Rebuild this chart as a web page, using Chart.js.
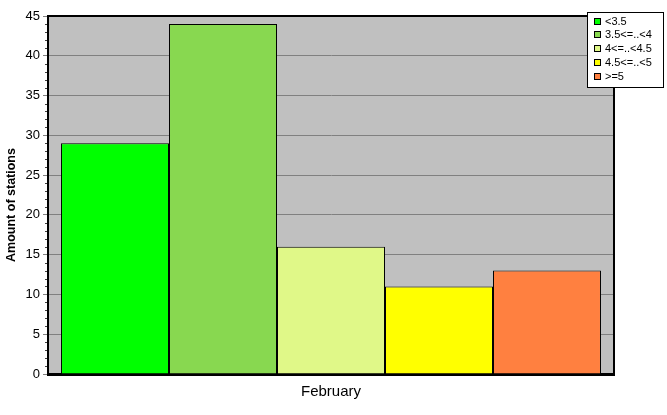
<!DOCTYPE html>
<html>
<head>
<meta charset="utf-8">
<script src="https://cdn.jsdelivr.net/npm/chart.js@4/dist/chart.umd.min.js"></script>
<style>
  html, body { margin: 0; padding: 0; background: #fff; }
  #wrap { width: 667px; height: 415px; }
</style>
</head>
<body>
<div id="wrap"><canvas id="chart" width="667" height="415"></canvas></div>
<script>
// data
const categories = ['February'];
const seriesLabels = ['<3.5', '3.5<=..<4', '4<=..<4.5', '4.5<=..<5', '>=5'];
const seriesValues = [29, 44, 16, 11, 13];
const seriesColors = ['#00ff00', '#88d850', '#e0f888', '#ffff00', '#ff8040'];
const yTicks = [0, 5, 10, 15, 20, 25, 30, 35, 40, 45];
const yTitle = 'Amount of stations';

const FONT = '"Liberation Sans", Arial, sans-serif';

// gray plot background + black frame + minor ticks + y title
const plotFrame = {
  id: 'plotFrame',
  beforeDraw(chart) {
    const { ctx, chartArea: a } = chart;
    ctx.save();
    ctx.fillStyle = '#c0c0c0';
    ctx.fillRect(a.left, a.top, a.right - a.left, a.bottom - a.top);
    ctx.restore();
  },
  afterDraw(chart) {
    const { ctx, chartArea: a, scales } = chart;
    ctx.save();
    ctx.strokeStyle = '#000';
    ctx.lineWidth = 2;
    ctx.beginPath();
    ctx.moveTo(a.left, a.top);
    ctx.lineTo(a.right, a.top);
    ctx.lineTo(a.right, a.bottom);
    ctx.stroke();
    // minor ticks
    ctx.strokeStyle = '#404040';
    ctx.lineWidth = 1;
    for (let v = 0; v <= 45; v++) {
      if (v % 5 === 0) continue;
      const y = Math.round(scales.y.getPixelForValue(v)) + 0.5;
      ctx.beginPath();
      ctx.moveTo(a.left - 3, y);
      ctx.lineTo(a.left - 1, y);
      ctx.stroke();
    }
    // y axis title
    ctx.translate(12, 205);
    ctx.rotate(-Math.PI / 2);
    ctx.font = 'bold 12.5px ' + FONT;
    ctx.fillStyle = '#000';
    ctx.textAlign = 'center';
    ctx.textBaseline = 'middle';
    ctx.fillText(yTitle, 0, 0);
    ctx.restore();
  }
};

// boxed legend in the top right corner
const boxLegend = {
  id: 'boxLegend',
  afterDraw(chart) {
    const { ctx } = chart;
    const x = 587, y = 12, w = 76, h = 75;
    ctx.save();
    ctx.fillStyle = '#fff';
    ctx.fillRect(x, y, w, h);
    ctx.strokeStyle = '#000';
    ctx.lineWidth = 1;
    ctx.strokeRect(x + 0.5, y + 0.5, w, h);
    ctx.font = '11px ' + FONT;
    ctx.textBaseline = 'middle';
    chart.data.datasets.forEach((ds, i) => {
      const cy = y + 9 + i * 13.8;
      ctx.fillStyle = ds.backgroundColor;
      ctx.fillRect(x + 7, Math.round(cy - 3.5), 7, 7);
      ctx.strokeRect(x + 7.5, Math.round(cy - 3.5) + 0.5, 6, 6);
      ctx.fillStyle = '#000';
      ctx.fillText(ds.label, x + 18, cy + 0.5);
    });
    ctx.restore();
  }
};

new Chart(document.getElementById('chart'), {
  type: 'bar',
  data: {
    labels: categories,
    datasets: seriesLabels.map((label, i) => ({
      label,
      data: [seriesValues[i]],
      backgroundColor: seriesColors[i],
      borderColor: '#000',
      borderWidth: 1,
      borderSkipped: 'bottom',
      barPercentage: 1,
      categoryPercentage: 0.954
    }))
  },
  options: {
    responsive: false,
    animation: false,
    layout: { padding: { top: 16, right: 53, left: 0, bottom: 0 } },
    plugins: { legend: { display: false }, tooltip: { enabled: false } },
    scales: {
      x: {
        afterFit: s => { s.height = 41; },
        grid: { display: false, drawTicks: true, tickLength: 4, tickColor: '#808080' },
        border: { color: '#000', width: 3 },
        ticks: { color: '#000', font: { family: FONT, size: 15 }, padding: 5 }
      },
      y: {
        min: 0,
        max: 45,
        afterFit: s => { s.width = 48; },
        afterBuildTicks: s => { s.ticks = yTicks.map(v => ({ value: v })); },
        grid: { color: '#808080', tickColor: '#808080', tickLength: 5, drawTicks: true },
        border: { color: '#000', width: 2 },
        ticks: { color: '#000', font: { family: FONT, size: 13 }, padding: 3 }
      }
    }
  },
  plugins: [plotFrame, boxLegend]
});
</script>
</body>
</html>
